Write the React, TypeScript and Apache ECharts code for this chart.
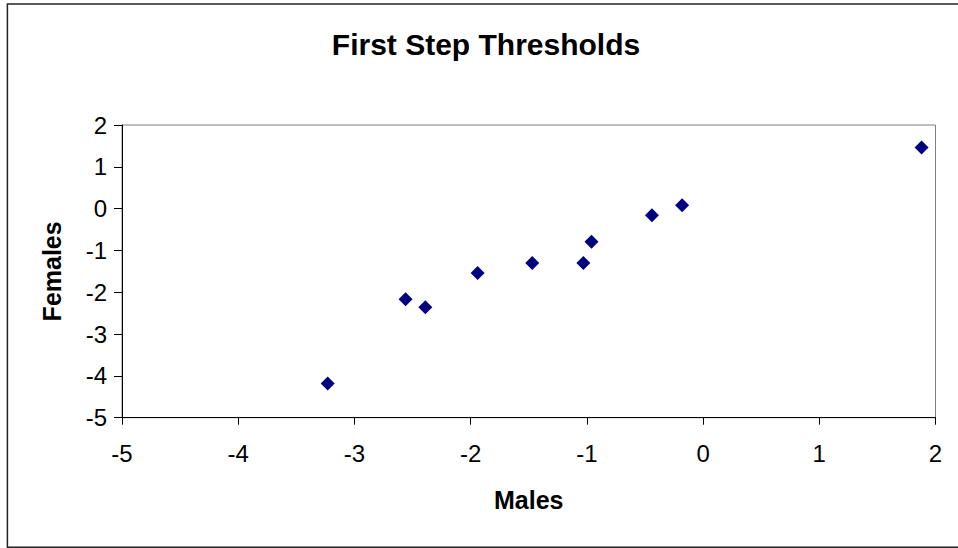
import React, { useEffect, useRef } from "react";
import * as echarts from "echarts";

const chartTitle = "First Step Thresholds";
const xAxisName = "Males";
const yAxisName = "Females";
const males = [-3.23, -2.56, -2.39, -1.94, -1.47, -1.03, -0.96, -0.44, -0.18, 1.88];
const females = [-4.18, -2.17, -2.36, -1.54, -1.3, -1.3, -0.79, -0.16, 0.08, 1.46];

export default function App() {
  const ref = useRef<HTMLDivElement>(null);
  useEffect(() => {
    if (!ref.current) return;
    const chart = echarts.init(ref.current, null, { renderer: "svg" });
    const font = "'Liberation Sans', Arial, sans-serif";
    chart.setOption({
      animation: false,
      backgroundColor: "#ffffff",
      title: {
        text: chartTitle,
        left: 486,
        top: 29,
        textAlign: "center",
        padding: 0,
        textStyle: { fontFamily: font, fontSize: 30, fontWeight: "bold", color: "#000" },
      },
      grid: {
        left: 122,
        top: 125,
        right: 22.5,
        bottom: 130.3,
        show: true,
        borderColor: "#808080",
        borderWidth: 1,
        containLabel: false,
      },
      xAxis: {
        type: "value",
        min: -5,
        max: 2,
        interval: 1,
        name: xAxisName,
        nameLocation: "middle",
        nameGap: 70,
        nameTextStyle: { fontFamily: font, fontSize: 25, fontWeight: "bold", color: "#000" },
        axisLine: { show: true, onZero: false, lineStyle: { color: "#000", width: 1 } },
        axisTick: { show: true, length: 7, lineStyle: { color: "#000" } },
        axisLabel: { fontFamily: font, fontSize: 24, color: "#000", margin: 24 },
        splitLine: { show: false },
      },
      yAxis: {
        type: "value",
        min: -5,
        max: 2,
        interval: 1,
        name: yAxisName,
        nameLocation: "middle",
        nameGap: 58,
        nameRotate: 90,
        nameTextStyle: { fontFamily: font, fontSize: 25, fontWeight: "bold", color: "#000" },
        axisLine: { show: true, onZero: false, lineStyle: { color: "#000", width: 1 } },
        axisTick: { show: true, length: 8, lineStyle: { color: "#000" } },
        axisLabel: { fontFamily: font, fontSize: 24, color: "#000", margin: 15 },
        splitLine: { show: false },
      },
      series: [
        {
          type: "scatter",
          symbol: "diamond",
          symbolSize: 14,
          itemStyle: { color: "#000080", opacity: 1 },
          data: males.map((m, i) => [m, females[i]]),
        },
      ],
      graphic: [
        {
          type: "rect",
          shape: { x: 7.4, y: 4, width: 960, height: 543.3 },
          style: { fill: "none", stroke: "#222", lineWidth: 1.5 },
          silent: true,
        },
      ],
    });
    return () => chart.dispose();
  }, []);
  return (
    <div
      ref={ref}
      style={{ position: "absolute", left: 0, top: 0, width: 958, height: 548 }}
    />
  );
}
